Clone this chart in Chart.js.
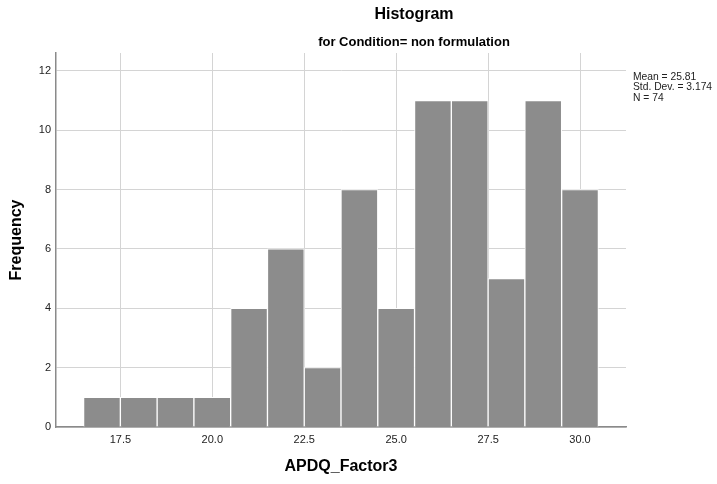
<!DOCTYPE html>
<html>
<head>
<meta charset="utf-8">
<script src="https://cdn.jsdelivr.net/npm/chart.js@4/dist/chart.umd.min.js"></script>
<style>
  html, body { margin: 0; padding: 0; background: #ffffff; }
  #wrap { width: 717px; height: 484px; position: relative; }
</style>
</head>
<body>
<div id="wrap"><canvas id="c" width="717" height="484"></canvas></div>
<script>
// Histogram bins (centre of each 1-point bin) and their counts
const binCenters = [17, 18, 19, 20, 21, 22, 23, 24, 25, 26, 27, 28, 29, 30];
const frequencies = [1, 1, 1, 1, 4, 6, 2, 8, 4, 11, 11, 5, 11, 8];
const statsLines = ['Mean = 25.81', 'Std. Dev. = 3.174', 'N = 74'];
const chartTitle = 'Histogram';
const chartSubtitle = 'for Condition= non formulation';
const xAxisTitle = 'APDQ_Factor3';
const yAxisTitle = 'Frequency';

const SANS = "'Liberation Sans', Arial, sans-serif";

const points = binCenters.map((x, i) => ({ x: x, y: frequencies[i] }));

// Titles, axis titles and the summary statistics box
const textPlugin = {
  id: 'histText',
  afterDraw(chart) {
    const ctx = chart.ctx;
    const area = chart.chartArea;
    ctx.save();
    ctx.fillStyle = '#000';
    ctx.textAlign = 'center';
    ctx.textBaseline = 'middle';
    ctx.font = 'bold 16px ' + SANS;
    ctx.fillText(chartTitle, 414, 15);
    ctx.font = 'bold 13px ' + SANS;
    ctx.fillText(chartSubtitle, 414, 42);

    ctx.font = 'bold 16px ' + SANS;
    ctx.fillText(xAxisTitle, (area.left + area.right) / 2, 467);
    ctx.save();
    ctx.translate(17, (area.top + area.bottom) / 2);
    ctx.rotate(-Math.PI / 2);
    ctx.fillText(yAxisTitle, 0, 0);
    ctx.restore();

    // statistics block to the right of the plot
    ctx.textAlign = 'left';
    ctx.font = '10.3px ' + SANS;
    ctx.fillStyle = '#222';
    statsLines.forEach((s, i) => ctx.fillText(s, 633, 77 + i * 10.5));
    ctx.restore();
  }
};

new Chart(document.getElementById('c'), {
  type: 'bar',
  data: {
    datasets: [{
      data: points,
      backgroundColor: '#8c8c8c',
      borderColor: '#ffffff',
      borderWidth: 1,
      borderSkipped: 'start',
      barPercentage: 1,
      categoryPercentage: 1
    }]
  },
  options: {
    responsive: false,
    animation: false,
    devicePixelRatio: 1,
    layout: { padding: { top: 53, right: 91, bottom: 0, left: 0 } },
    plugins: {
      legend: { display: false },
      tooltip: { enabled: false },
      title: { display: false }
    },
    scales: {
      x: {
        type: 'linear',
        min: 15.75,
        max: 31.25,
        offset: false,
        grid: { color: '#d4d4d4', lineWidth: 1, drawTicks: false, offset: false },
        border: { display: true, color: '#8a8a8a', width: 1.5 },
        ticks: {
          stepSize: 2.5,
          includeBounds: false,
          padding: 6,
          color: '#222',
          font: { family: SANS, size: 11 },
          callback: v => v.toFixed(1)
        },
        afterFit: s => { s.height = 57; }
      },
      y: {
        min: 0,
        max: 12.6,
        grid: { color: '#d4d4d4', lineWidth: 1, drawTicks: false },
        border: { display: true, color: '#8a8a8a', width: 1.5 },
        ticks: {
          stepSize: 2,
          includeBounds: false,
          padding: 5,
          color: '#222',
          font: { family: SANS, size: 11 }
        },
        afterFit: s => { s.width = 56; }
      }
    }
  },
  plugins: [textPlugin]
});
</script>
</body>
</html>
